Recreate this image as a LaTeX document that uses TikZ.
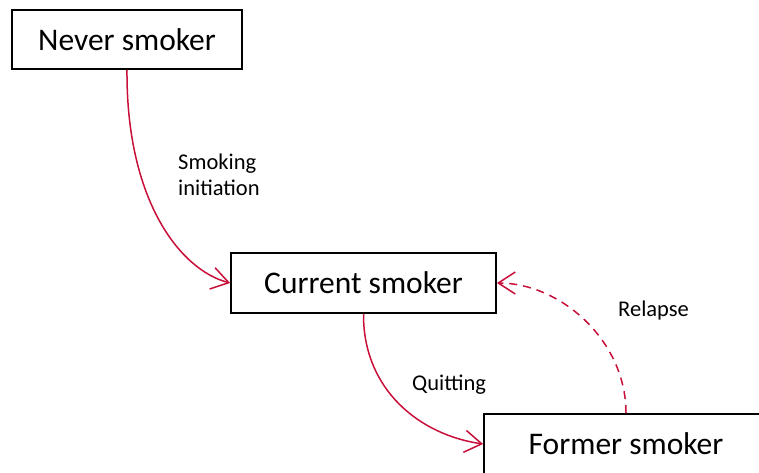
\documentclass[tikz,border=0pt]{standalone}
\usepackage{fontspec}
\setmainfont{Carlito}
\usetikzlibrary{arrows.meta}
\definecolor{flowred}{RGB}{200,16,58}
\tikzset{
  state/.style={draw=black, line width=1.8pt, fill=white, inner sep=0pt,
    font=\fontsize{31.5}{36}\selectfont},
  trans/.style={draw=flowred, line width=1.5pt,
    -{Straight Barb[length=17pt, width=22pt, line width=1.5pt]}},
  lbl/.style={inner sep=0pt, align=left, font=\fontsize{22.5}{26}\selectfont},
}
\begin{document}
\begin{tikzpicture}[x=1pt, y=-1pt]
\clip (0,0) rectangle (759,473);
\fill[white] (0,0) rectangle (759,473);

% states
\node[state, minimum width=230pt, minimum height=59pt] (never) at (127,39.5) {Never smoker};
\node[state, minimum width=265pt, minimum height=60pt] (current) at (363.5,283) {Current smoker};
\node[state, minimum width=284pt, minimum height=60pt] (former) at (626,444) {Former smoker};

% transitions
\draw[trans] (never.south) .. controls (126,200) and (180,270) .. (current.west);
\draw[trans] (current.south) .. controls (363,390) and (420,435) .. (former.west);
\draw[trans, dash pattern=on 8pt off 6pt] (former.north) .. controls (626,340) and (560,283) .. (current.east);

% transition labels
\node[lbl, anchor=west] (lini) at (178,175) {Smoking\\initiation};
\node[lbl, anchor=base west] (lquit) at (412,390) {Quitting};
\node[lbl, anchor=base west] (lrel) at (618,316) {Relapse};
\end{tikzpicture}
\end{document}
